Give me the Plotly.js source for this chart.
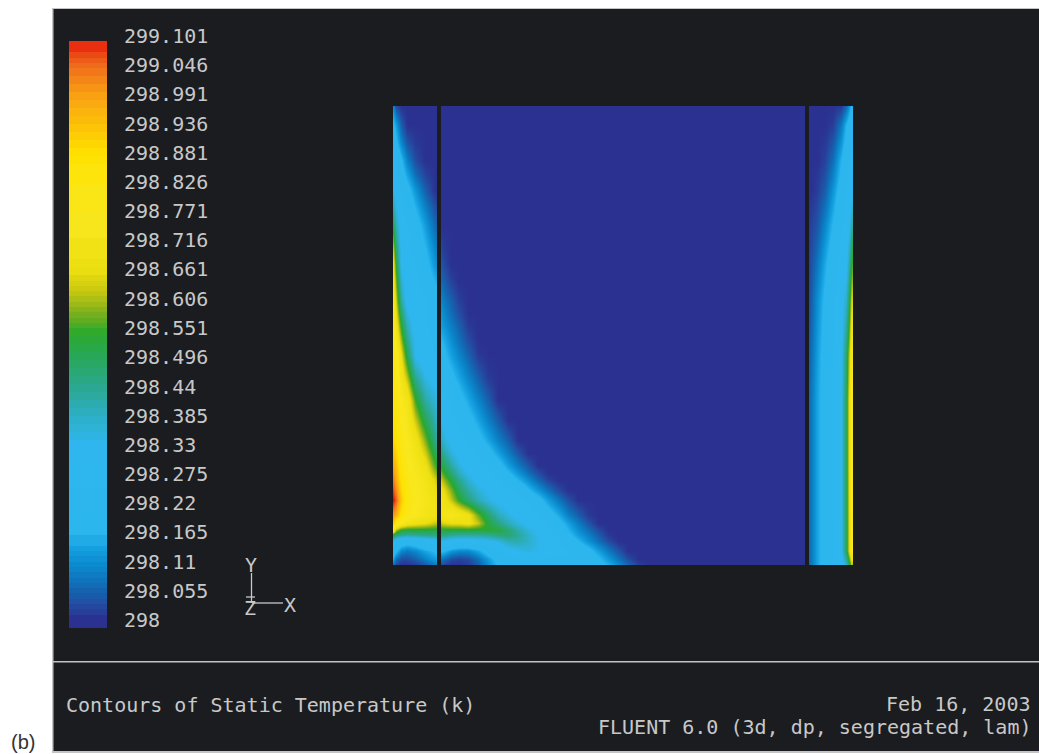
<!DOCTYPE html>
<html><head><meta charset="utf-8">
<script src="https://cdn.plot.ly/plotly-3.0.1.min.js"></script>
<style>html,body{margin:0;padding:0;background:#fff}#c{width:1039px;height:754px}</style>
</head><body><div id="c"></div>
<script>
// Static temperature = 298 K + rise. Grid positions are along the cavity width / height.
const baseT = 298;
const tMax = 299.101;

const leftX = [0,3,8,14,22,32,42,44];
const leftY = [0,6,14,24,30,35,42,50,65,85,100,125,165,210,265,300,320,340,358,375,390,405,422,440,459];
const leftRise = [
 [.06,.02,0,0,.01,.04,.08,.09],
 [.14,.07,.03,.03,.05,.09,.13,.14],
 [.22,.17,.1,.08,.1,.14,.17,.18],
 [.32,.27,.22,.2,.22,.26,.3,.31],
 [.5,.47,.43,.42,.43,.44,.45,.46],
 [.75,.6,.53,.52,.52,.52,.52,.52],
 [.92,.82,.75,.7,.68,.66,.62,.62],
 [1.0,.96,.86,.8,.76,.72,.7,.7],
 [1.101,1.05,.92,.82,.78,.74,.7,.7],
 [1.03,.97,.87,.8,.76,.72,.64,.6],
 [.98,.93,.84,.78,.74,.68,.55,.52],
 [.9,.86,.8,.76,.7,.58,.45,.42],
 [.85,.82,.76,.72,.55,.42,.36,.34],
 [.82,.78,.66,.5,.33,.27,.25,.25],
 [.75,.62,.42,.3,.27,.25,.2,.2],
 [.68,.52,.33,.28,.25,.19,.12,.1],
 [.6,.46,.31,.26,.22,.16,.09,.075],
 [.5,.4,.29,.25,.2,.13,.06,.05],
 [.42,.34,.26,.22,.16,.09,.03,.02],
 [.34,.29,.24,.19,.12,.05,0,0],
 [.31,.26,.2,.14,.07,.02,0,0],
 [.28,.24,.17,.09,.03,0,0,0],
 [.23,.18,.1,.04,.01,0,0,0],
 [.18,.13,.05,0,0,0,0,0],
 [.1,.03,0,0,0,0,0,0]
];

const midX = [48,50,58,66,75,85,95,105,115,125,135,145,155,165,175,185,195,205,215,225,235,245,255,412];
const midY = [0,6,14,24,30,35,42,50,65,75,85,92,100,112,125,145,165,188,210,225,240,252,265,283,300,320,340,459];
const midRise = [
 [.02,.02,0,0,.01,.05,.11,.17,.2,.2,.2,.2,.2,.2,.2,.2,.2,.19,.16,.11,.06,.02,0,0],
 [.07,.07,.03,.02,.03,.07,.13,.19,.22,.23,.24,.24,.23,.22,.22,.22,.2,.175,.125,.075,.03,0,0,0],
 [.17,.17,.12,.1,.1,.14,.2,.26,.3,.33,.35,.33,.3,.27,.25,.23,.19,.135,.085,.04,0,0,0,0],
 [.33,.33,.3,.28,.28,.3,.32,.35,.4,.41,.38,.34,.31,.26,.21,.165,.115,.07,.03,0,0,0,0,0],
 [.45,.45,.43,.42,.42,.42,.43,.46,.47,.43,.38,.33,.28,.23,.18,.13,.09,.05,.01,0,0,0,0,0],
 [.52,.52,.52,.52,.52,.52,.53,.52,.47,.41,.36,.31,.26,.21,.16,.11,.07,.03,0,0,0,0,0,0],
 [.62,.64,.66,.66,.68,.62,.52,.46,.4,.35,.31,.27,.24,.19,.135,.085,.04,0,0,0,0,0,0,0],
 [.7,.72,.75,.72,.68,.57,.48,.4,.35,.31,.28,.24,.2,.15,.09,.05,.01,0,0,0,0,0,0,0],
 [.72,.7,.62,.54,.47,.4,.35,.31,.28,.26,.23,.19,.13,.08,.035,0,0,0,0,0,0,0,0,0],
 [.68,.66,.58,.49,.42,.36,.32,.29,.26,.24,.17,.12,.07,.03,0,0,0,0,0,0,0,0,0,0],
 [.62,.6,.52,.44,.37,.31,.28,.25,.21,.16,.11,.06,.02,0,0,0,0,0,0,0,0,0,0,0],
 [.58,.55,.47,.39,.33,.29,.26,.22,.17,.12,.07,.03,0,0,0,0,0,0,0,0,0,0,0,0],
 [.52,.5,.42,.35,.3,.27,.24,.19,.13,.08,.04,0,0,0,0,0,0,0,0,0,0,0,0,0],
 [.46,.43,.36,.31,.27,.23,.19,.135,.085,.04,0,0,0,0,0,0,0,0,0,0,0,0,0,0],
 [.4,.37,.3,.27,.24,.19,.14,.09,.05,0,0,0,0,0,0,0,0,0,0,0,0,0,0,0],
 [.33,.32,.27,.23,.19,.14,.09,.045,0,0,0,0,0,0,0,0,0,0,0,0,0,0,0,0],
 [.28,.27,.23,.19,.145,.095,.05,0,0,0,0,0,0,0,0,0,0,0,0,0,0,0,0,0],
 [.23,.22,.18,.14,.095,.05,.01,0,0,0,0,0,0,0,0,0,0,0,0,0,0,0,0,0],
 [.19,.18,.135,.095,.055,.01,0,0,0,0,0,0,0,0,0,0,0,0,0,0,0,0,0,0],
 [.16,.155,.11,.07,.03,0,0,0,0,0,0,0,0,0,0,0,0,0,0,0,0,0,0,0],
 [.13,.12,.085,.05,.01,0,0,0,0,0,0,0,0,0,0,0,0,0,0,0,0,0,0,0],
 [.115,.105,.065,.03,0,0,0,0,0,0,0,0,0,0,0,0,0,0,0,0,0,0,0,0],
 [.095,.085,.05,.015,0,0,0,0,0,0,0,0,0,0,0,0,0,0,0,0,0,0,0,0],
 [.06,.055,.02,0,0,0,0,0,0,0,0,0,0,0,0,0,0,0,0,0,0,0,0,0],
 [.04,.03,0,0,0,0,0,0,0,0,0,0,0,0,0,0,0,0,0,0,0,0,0,0],
 [.02,.01,0,0,0,0,0,0,0,0,0,0,0,0,0,0,0,0,0,0,0,0,0,0],
 [0,0,0,0,0,0,0,0,0,0,0,0,0,0,0,0,0,0,0,0,0,0,0,0],
 [0,0,0,0,0,0,0,0,0,0,0,0,0,0,0,0,0,0,0,0,0,0,0,0]
];

const rightX = [416,418,424,432,440,448,453,456,458,460];
const rightY = [0,14,100,165,210,265,300,340,375,405,440,459];
const rightRise = [
 [.06,.08,.14,.2,.25,.28,.38,.5,.6,.6],
 [.06,.08,.14,.2,.25,.33,.5,.65,.75,.78],
 [.06,.08,.14,.2,.26,.33,.5,.66,.75,.78],
 [.06,.08,.14,.2,.26,.33,.5,.66,.75,.78],
 [.05,.07,.13,.2,.25,.32,.48,.62,.72,.75],
 [.03,.05,.11,.18,.24,.3,.38,.5,.62,.66],
 [.02,.035,.08,.15,.22,.27,.32,.42,.52,.58],
 [.01,.02,.04,.1,.17,.24,.28,.33,.4,.45],
 [0,0,.015,.05,.12,.2,.25,.28,.3,.33],
 [0,0,0,.02,.07,.16,.22,.25,.27,.28],
 [0,0,0,0,.015,.08,.16,.2,.23,.25],
 [0,0,0,0,0,.01,.06,.12,.17,.2]
];

const scaleLevels = [298,298.03,298.06,298.1,298.135,298.165,298.33,298.385,298.44,298.496,298.54,298.58,298.62,298.66,298.77,298.88,298.936,298.99,299.046,299.08,299.101];
const scaleColors = ['#2b3190','#234ca2','#1268b2','#0a88cc','#14a0e0','#2cb6ee','#2fb6ee','#2dafc5','#2ba88f','#28a858','#2ca82c','#80b01c','#c8c810','#ecdf10','#f9e81e','#ffe100','#fdbf08','#f9a014','#ee6a1c','#ea3010','#ee0505'];
const tickValues = [298,298.055,298.11,298.165,298.22,298.275,298.33,298.385,298.44,298.496,298.551,298.606,298.661,298.716,298.771,298.826,298.881,298.936,298.991,299.046,299.101];
const tickLabels = ['298','298.055','298.11','298.165','298.22','298.275','298.33','298.385','298.44','298.496','298.551','298.606','298.661','298.716','298.771','298.826','298.881','298.936','298.991','299.046','299.101'];
const barEdges = [297.985,298.01,298.02,298.03,298.04,298.05,298.06,298.07,298.08,298.09,298.1,298.11,298.12,298.13,298.14,298.16,298.2,298.25,298.3,298.32,298.34,298.355,298.37,298.385,298.4,298.415,298.43,298.445,298.46,298.475,298.49,298.505,298.52,298.535,298.55,298.56,298.57,298.58,298.59,298.6,298.61,298.62,298.63,298.64,298.65,298.665,298.68,298.72,298.77,298.82,298.86,298.875,298.89,298.905,298.92,298.935,298.95,298.965,298.98,298.995,299.01,299.025,299.04,299.05,299.06,299.07,299.0916];

const W = 1039, H = 754;
const bg = '#1a1c20', ink = '#c8c8c8';
const mono = '"DejaVu Sans Mono", monospace';
const colorscale = scaleLevels.map((t,i)=>[(t-baseT)/(tMax-baseT), scaleColors[i]]);
const toT = rows => rows.map(r => r.map(v => baseT + v));
const fx = p => p/W, fy = p => 1 - p/H;

function field(x,y,rise){
  return {type:'heatmap', x:x, y:y, z:toT(rise), zmin:baseT, zmax:tMax, zauto:false,
    colorscale:colorscale, showscale:false, zsmooth:'best', hoverinfo:'skip', xaxis:'x', yaxis:'y'};
}
const barCentres = barEdges.slice(0,-1).map((e,i)=>(e+barEdges[i+1])/2);
const bar = {type:'heatmap', x:[0,37.5/54], y:barEdges, z:barCentres.map(c=>[c]), zmin:baseT, zmax:tMax, zauto:false,
  colorscale:colorscale, showscale:false, hoverinfo:'skip', xaxis:'x2', yaxis:'y2'};

function label(text,x,y,anchor,size,color,family){
  return {text:text, x:fx(x), y:fy(y), xref:'paper', yref:'paper', xanchor:anchor||'left', yanchor:'middle',
    showarrow:false, font:{family:family||mono, size:size||20, color:color||ink}, borderpad:0};
}
function rect(x0,y0,x1,y1,fill,layer){
  return {type:'rect', xref:'paper', yref:'paper', x0:fx(x0), x1:fx(x1), y0:fy(y0), y1:fy(y1),
    fillcolor:fill, line:{width:0}, layer:layer||'below'};
}
function seg(x0,y0,x1,y1,w){
  return {type:'line', xref:'paper', yref:'paper', x0:fx(x0), x1:fx(x1), y0:fy(y0), y1:fy(y1),
    line:{color:ink, width:w||1.3}, layer:'above'};
}
const layout = {
  width:W, height:H, margin:{l:0,r:0,t:0,b:0}, paper_bgcolor:'#ffffff', plot_bgcolor:'rgba(0,0,0,0)', showlegend:false,
  xaxis:{domain:[fx(393),fx(853)], range:[0,460], visible:false, fixedrange:true},
  yaxis:{domain:[fy(565),fy(106)], range:[0,459], visible:false, fixedrange:true},
  xaxis2:{domain:[fx(69),fx(123)], range:[0,1], visible:false, fixedrange:true, anchor:'y2'},
  yaxis2:{domain:[fy(636),fy(20)], range:[298-16/530.4,299.101+16/530.4], anchor:'x2', side:'right', showgrid:false, zeroline:false, showline:false,
    ticks:'', tickmode:'array', tickvals:tickValues, ticktext:tickLabels, tickfont:{family:mono,size:20,color:ink}, fixedrange:true},
  shapes:[
    rect(52,8,1039,753,'#c4c4c4'),
    rect(53.5,9,1039,661,bg),
    rect(53.5,662.5,1039,751,bg),
    {type:'rect',xref:'x',yref:'paper',x0:44,x1:48,y0:fy(565),y1:fy(106),fillcolor:bg,line:{width:0},layer:'above'},
    {type:'rect',xref:'x',yref:'paper',x0:412,x1:416,y0:fy(565),y1:fy(106),fillcolor:bg,line:{width:0},layer:'above'},
    seg(251.5,573,251.5,603),
    seg(252,603,283,603),
    seg(246,597,255,597)
  ],
  annotations:[
    label('Y',251,565,'center'),
    label('X',290,605,'center'),
    label('Z',250,608,'center'),
    label('Contours of Static Temperature (k)',65,705),
    label('Feb 16, 2003',1032,704,'right'),
    label('FLUENT 6.0 (3d, dp, segregated, lam)',1032,727,'right'),
    label('(b)',10,742,'left',20,'#333333','"Liberation Sans", Arial, sans-serif')
  ]
};
Plotly.newPlot('c',[field(leftX,leftY,leftRise),field(midX,midY,midRise),field(rightX,rightY,rightRise),bar],layout,{displayModeBar:false,staticPlot:true});
</script></body></html>
